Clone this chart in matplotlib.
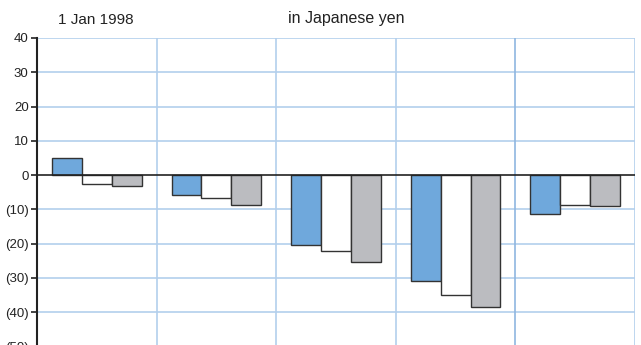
import matplotlib.pyplot as plt
import numpy as np

groups = np.arange(5)
blue_vals = [5.0, -5.7, -20.5, -30.9, -11.2]
white_vals = [-2.6, -6.8, -22.2, -34.9, -8.8]
gray_vals = [-3.1, -8.8, -25.3, -38.4, -9.0]
yticks = [40, 30, 20, 10, 0, -10, -20, -30, -40, -50]

def fmt(v):
    return "(%d)" % abs(v) if v < 0 else "%d" % v

plt.rcParams['font.family'] = ['Liberation Sans', 'DejaVu Sans']

fig = plt.figure(figsize=(6.41, 3.45), dpi=100)
ax = fig.add_axes([37/641, 1 - 346.5/345, (635 - 37)/641, (346.5 - 38)/345])

grid_c = '#b3cfec'
for y in yticks:
    if y != 0:
        ax.axhline(y, color=grid_c, lw=1.2, zorder=0)
for x in [1, 2, 3, 4, 5]:
    ax.axvline(x, color='#8fb6e0' if x == 4 else grid_c, lw=1.2, zorder=0)

w = 0.25
ax.bar(groups + 0.5 - w, blue_vals, w, color='#6fa8dc', edgecolor='#333333', lw=1, zorder=2)
ax.bar(groups + 0.5, white_vals, w, color='white', edgecolor='#333333', lw=1, zorder=2)
ax.bar(groups + 0.5 + w, gray_vals, w, color='#bbbcc0', edgecolor='#333333', lw=1, zorder=2)
ax.axhline(0, color='#222222', lw=1.2, zorder=3)

ax.set_xlim(0, 5)
ax.set_ylim(-50, 40)
ax.set_xticks([])
ax.set_yticks(yticks)
ax.set_yticklabels([fmt(v) for v in yticks], fontsize=9.5, color='#222222')
ax.tick_params(axis='y', length=4, width=1.2, color='#222222', pad=2)
for s in ['top', 'right', 'bottom']:
    ax.spines[s].set_visible(False)
ax.spines['left'].set_linewidth(1.5)
ax.spines['left'].set_color('#222222')

fig.text(58/641, 1 - 20/345, '1 Jan 1998', fontsize=11, color='#222222', va='center')
fig.text(346/641, 1 - 18/345, 'in Japanese yen', fontsize=11.5, color='#222222', va='center', ha='center')

fig.savefig('out.png', dpi=100)
